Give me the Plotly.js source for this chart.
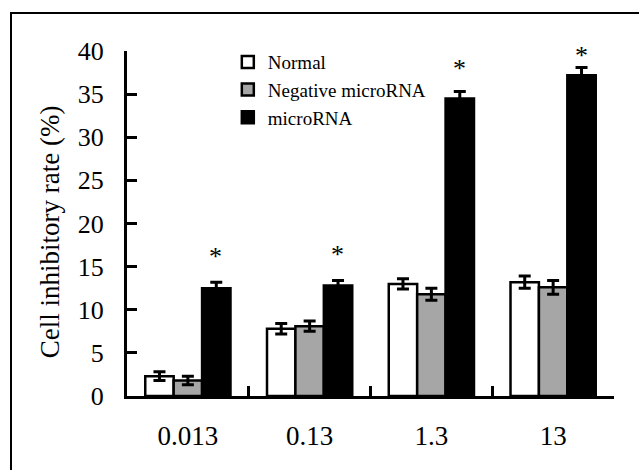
<!DOCTYPE html>
<html>
<head>
<meta charset="utf-8">
<script src="https://cdn.plot.ly/plotly-3.0.1.min.js"></script>
<style>html,body{margin:0;padding:0;background:#fff;}#chart{width:639px;height:470px;}</style>
</head>
<body>
<div id="chart"></div>
<script>
// Data
var categories = ['0.013', '0.13', '1.3', '13'];
var seriesNames = ['Normal', 'Negative microRNA', 'microRNA'];
var normalValues = [2.3, 7.8, 13.0, 13.2];
var normalErrors = [0.5, 0.6, 0.6, 0.7];
var negativeValues = [1.8, 8.1, 11.8, 12.6];
var negativeErrors = [0.5, 0.6, 0.7, 0.8];
var microValues = [12.5, 12.8, 34.5, 37.2];
var microErrors = [0.7, 0.6, 0.8, 0.9];
var asteriskY = [16.6, 16.9, 38.4, 39.9];
var yTicks = [0, 5, 10, 15, 20, 25, 30, 35, 40];
var yTitle = 'Cell inhibitory rate (%)';

var FONT = 'Liberation Serif';
function errStyle(arr) {
  return {type: 'data', array: arr, visible: true, color: '#000', thickness: 3, width: 6};
}
var traces = [
  {type: 'bar', name: seriesNames[0], x: categories, y: normalValues, error_y: errStyle(normalErrors),
   marker: {color: '#ffffff', line: {color: '#000', width: 2.5}}},
  {type: 'bar', name: seriesNames[1], x: categories, y: negativeValues, error_y: errStyle(negativeErrors),
   marker: {color: '#a6a6a6', line: {color: '#000', width: 2.5}}},
  {type: 'bar', name: seriesNames[2], x: categories, y: microValues, error_y: errStyle(microErrors),
   marker: {color: '#000000', line: {color: '#000', width: 2.5}}}
];

var annotations = categories.map(function (c, i) {
  return {x: i, y: asteriskY[i], xref: 'x', yref: 'y', text: '*', showarrow: false,
          xshift: 28, yanchor: 'middle', yshift: -4, font: {family: FONT, size: 26, color: '#000'}};
});
annotations.push({x: -0.158, y: 0.475, xref: 'paper', yref: 'paper', text: yTitle, showarrow: false,
                  textangle: -90, xanchor: 'center', yanchor: 'middle',
                  font: {family: FONT, size: 27, color: '#000'}});

var layout = {
  width: 639, height: 470,
  margin: {l: 127, r: 25, t: 51, b: 74},
  paper_bgcolor: '#fff', plot_bgcolor: '#fff',
  font: {family: FONT, color: '#000'},
  barmode: 'group', bargap: 0.3, bargroupgap: 0,
  showlegend: true,
  legend: {x: 0.207, y: 1.023, xanchor: 'left', yanchor: 'top', bgcolor: 'rgba(0,0,0,0)',
           font: {family: FONT, size: 19, color: '#000'}, traceorder: 'normal'},
  xaxis: {type: 'category', range: [-0.5, 3.5], showline: true, linecolor: '#000', linewidth: 3,
          ticks: 'inside', tickson: 'boundaries', ticklen: 10, tickwidth: 3, tickcolor: '#000',
          showgrid: false, zeroline: false, ticklabelstandoff: 14,
          tickfont: {family: FONT, size: 27, color: '#000'}},
  yaxis: {range: [0, 40], tickvals: yTicks, showline: true, linecolor: '#000', linewidth: 3,
          ticks: 'inside', ticklen: 10, tickwidth: 3, tickcolor: '#000',
          showgrid: false, zeroline: false, ticklabelstandoff: 15,
          tickfont: {family: FONT, size: 26, color: '#000'}},
  annotations: annotations,
  shapes: [{type: 'rect', xref: 'paper', yref: 'paper', x0: -0.2382, x1: 1.2, y0: -0.4, y1: 1.110,
            line: {color: '#000', width: 2}, layer: 'below'}]
};

Plotly.newPlot('chart', traces, layout, {displayModeBar: false, staticPlot: true});
</script>
</body>
</html>
